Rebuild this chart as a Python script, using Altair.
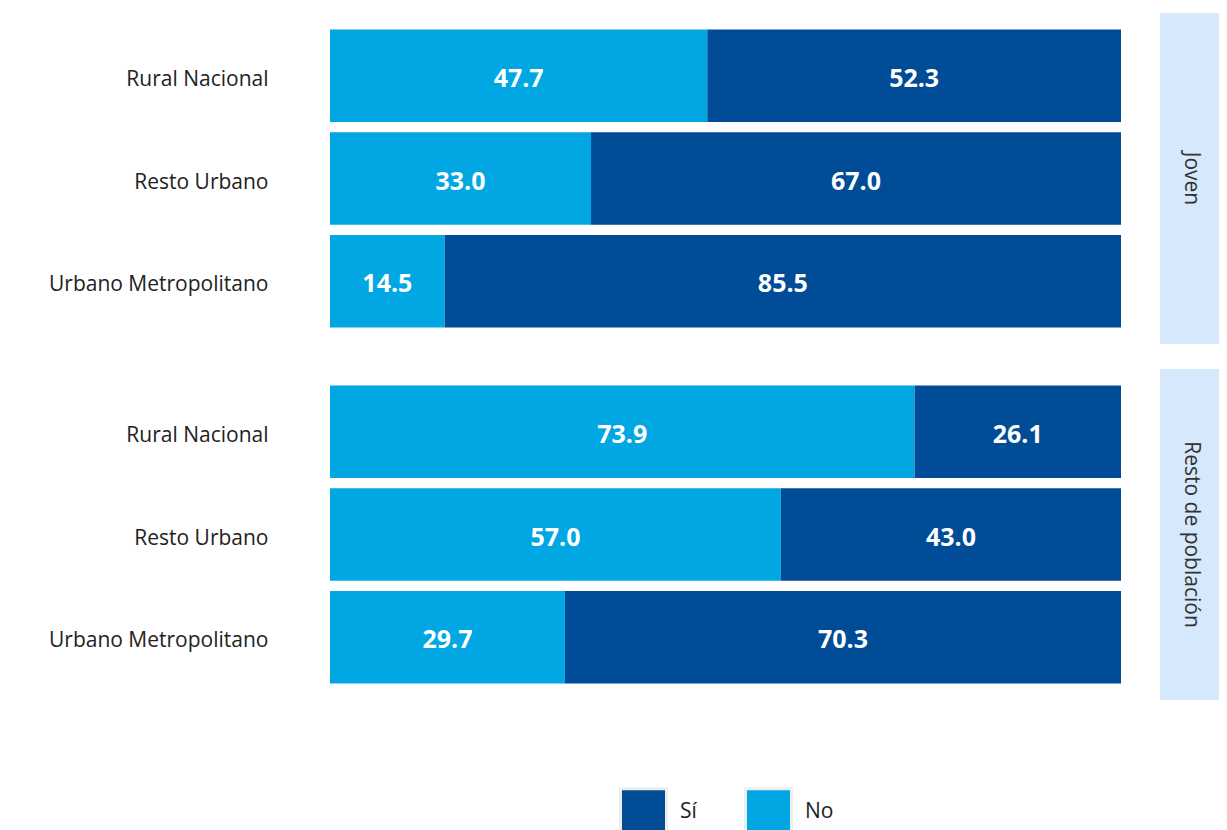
import altair as alt
import pandas as pd

categorias = ["Rural Nacional", "Resto Urbano", "Urbano Metropolitano"]
grupos = ["Joven", "Resto de población"]
respuestas = ["Sí", "No"]
no_joven = [47.7, 33.0, 14.5]
si_joven = [52.3, 67.0, 85.5]
no_resto = [73.9, 57.0, 29.7]
si_resto = [26.1, 43.0, 70.3]

DARK = "#004C97"
LIGHT = "#00A7E3"
STRIP = "#D5E8FC"
FONT = "Open Sans"

rows = []
for g, nos, sis in [(grupos[0], no_joven, si_joven), (grupos[1], no_resto, si_resto)]:
    for c, n, s in zip(categorias, nos, sis):
        rows.append(dict(grupo=g, categoria=c, respuesta="No", valor=n, orden=0, mid=n / 2))
        rows.append(dict(grupo=g, categoria=c, respuesta="Sí", valor=s, orden=1, mid=n + s / 2))
df = pd.DataFrame(rows)

W, H = 791, 331

y_enc = alt.Y(
    "categoria:N",
    sort=categorias,
    scale=alt.Scale(paddingInner=0.1, paddingOuter=0.16),
    axis=alt.Axis(title=None, domain=False, ticks=False, labelFontSize=21,
                  labelFont=FONT, labelColor="#222222", labelPadding=62, labelLimit=400,
                  labelOffset=4, minExtent=322, maxExtent=322),
)

bars = alt.Chart().mark_bar().encode(
    x=alt.X("valor:Q", stack="zero", scale=alt.Scale(domain=[0, 100], nice=False), axis=None),
    y=y_enc,
    color=alt.Color(
        "respuesta:N",
        scale=alt.Scale(domain=respuestas, range=[DARK, LIGHT]),
        legend=alt.Legend(title=None, orient="none", legendX=289, legendY=774,
                          direction="horizontal", symbolType="square", symbolSize=2116,
                          symbolStrokeColor="#eeeeee", symbolStrokeWidth=3,
                          symbolOpacity=1, labelFontSize=21, labelFont=FONT,
                          labelColor="#222222", labelOffset=12, columnPadding=42),
    ),
    order=alt.Order("orden:Q"),
)

labels = alt.Chart().mark_text(color="white", fontWeight="bold", fontSize=25, font=FONT, dy=3).encode(
    x=alt.X("mid:Q"),
    y=y_enc,
    text=alt.Text("valor:Q", format=".1f"),
)

one_row = "datum.orden == 0 && datum.categoria == 'Rural Nacional'"

strip = alt.Chart().mark_rect(color=STRIP).encode(
    x=alt.value(830), x2=alt.value(889), y=alt.value(0), y2=alt.value(H)
).transform_filter(one_row)

strip_text = alt.Chart().mark_text(angle=90, fontSize=21, font=FONT, color="#333333").encode(
    x=alt.value(861), y=alt.value(H / 2), text="grupo:N"
).transform_filter(one_row)

chart = alt.layer(strip, bars, labels, strip_text, data=df).properties(
    width=W, height=H
).facet(
    row=alt.Row("grupo:N", sort=grupos, header=alt.Header(labels=False, title=None)),
    spacing=25,
).properties(
    padding={"left": 0, "top": 5, "right": 0, "bottom": 5}
).configure(font=FONT).configure_view(stroke=None, strokeWidth=0)

chart.save("out.html", embed_options={"renderer": "svg", "actions": False})
